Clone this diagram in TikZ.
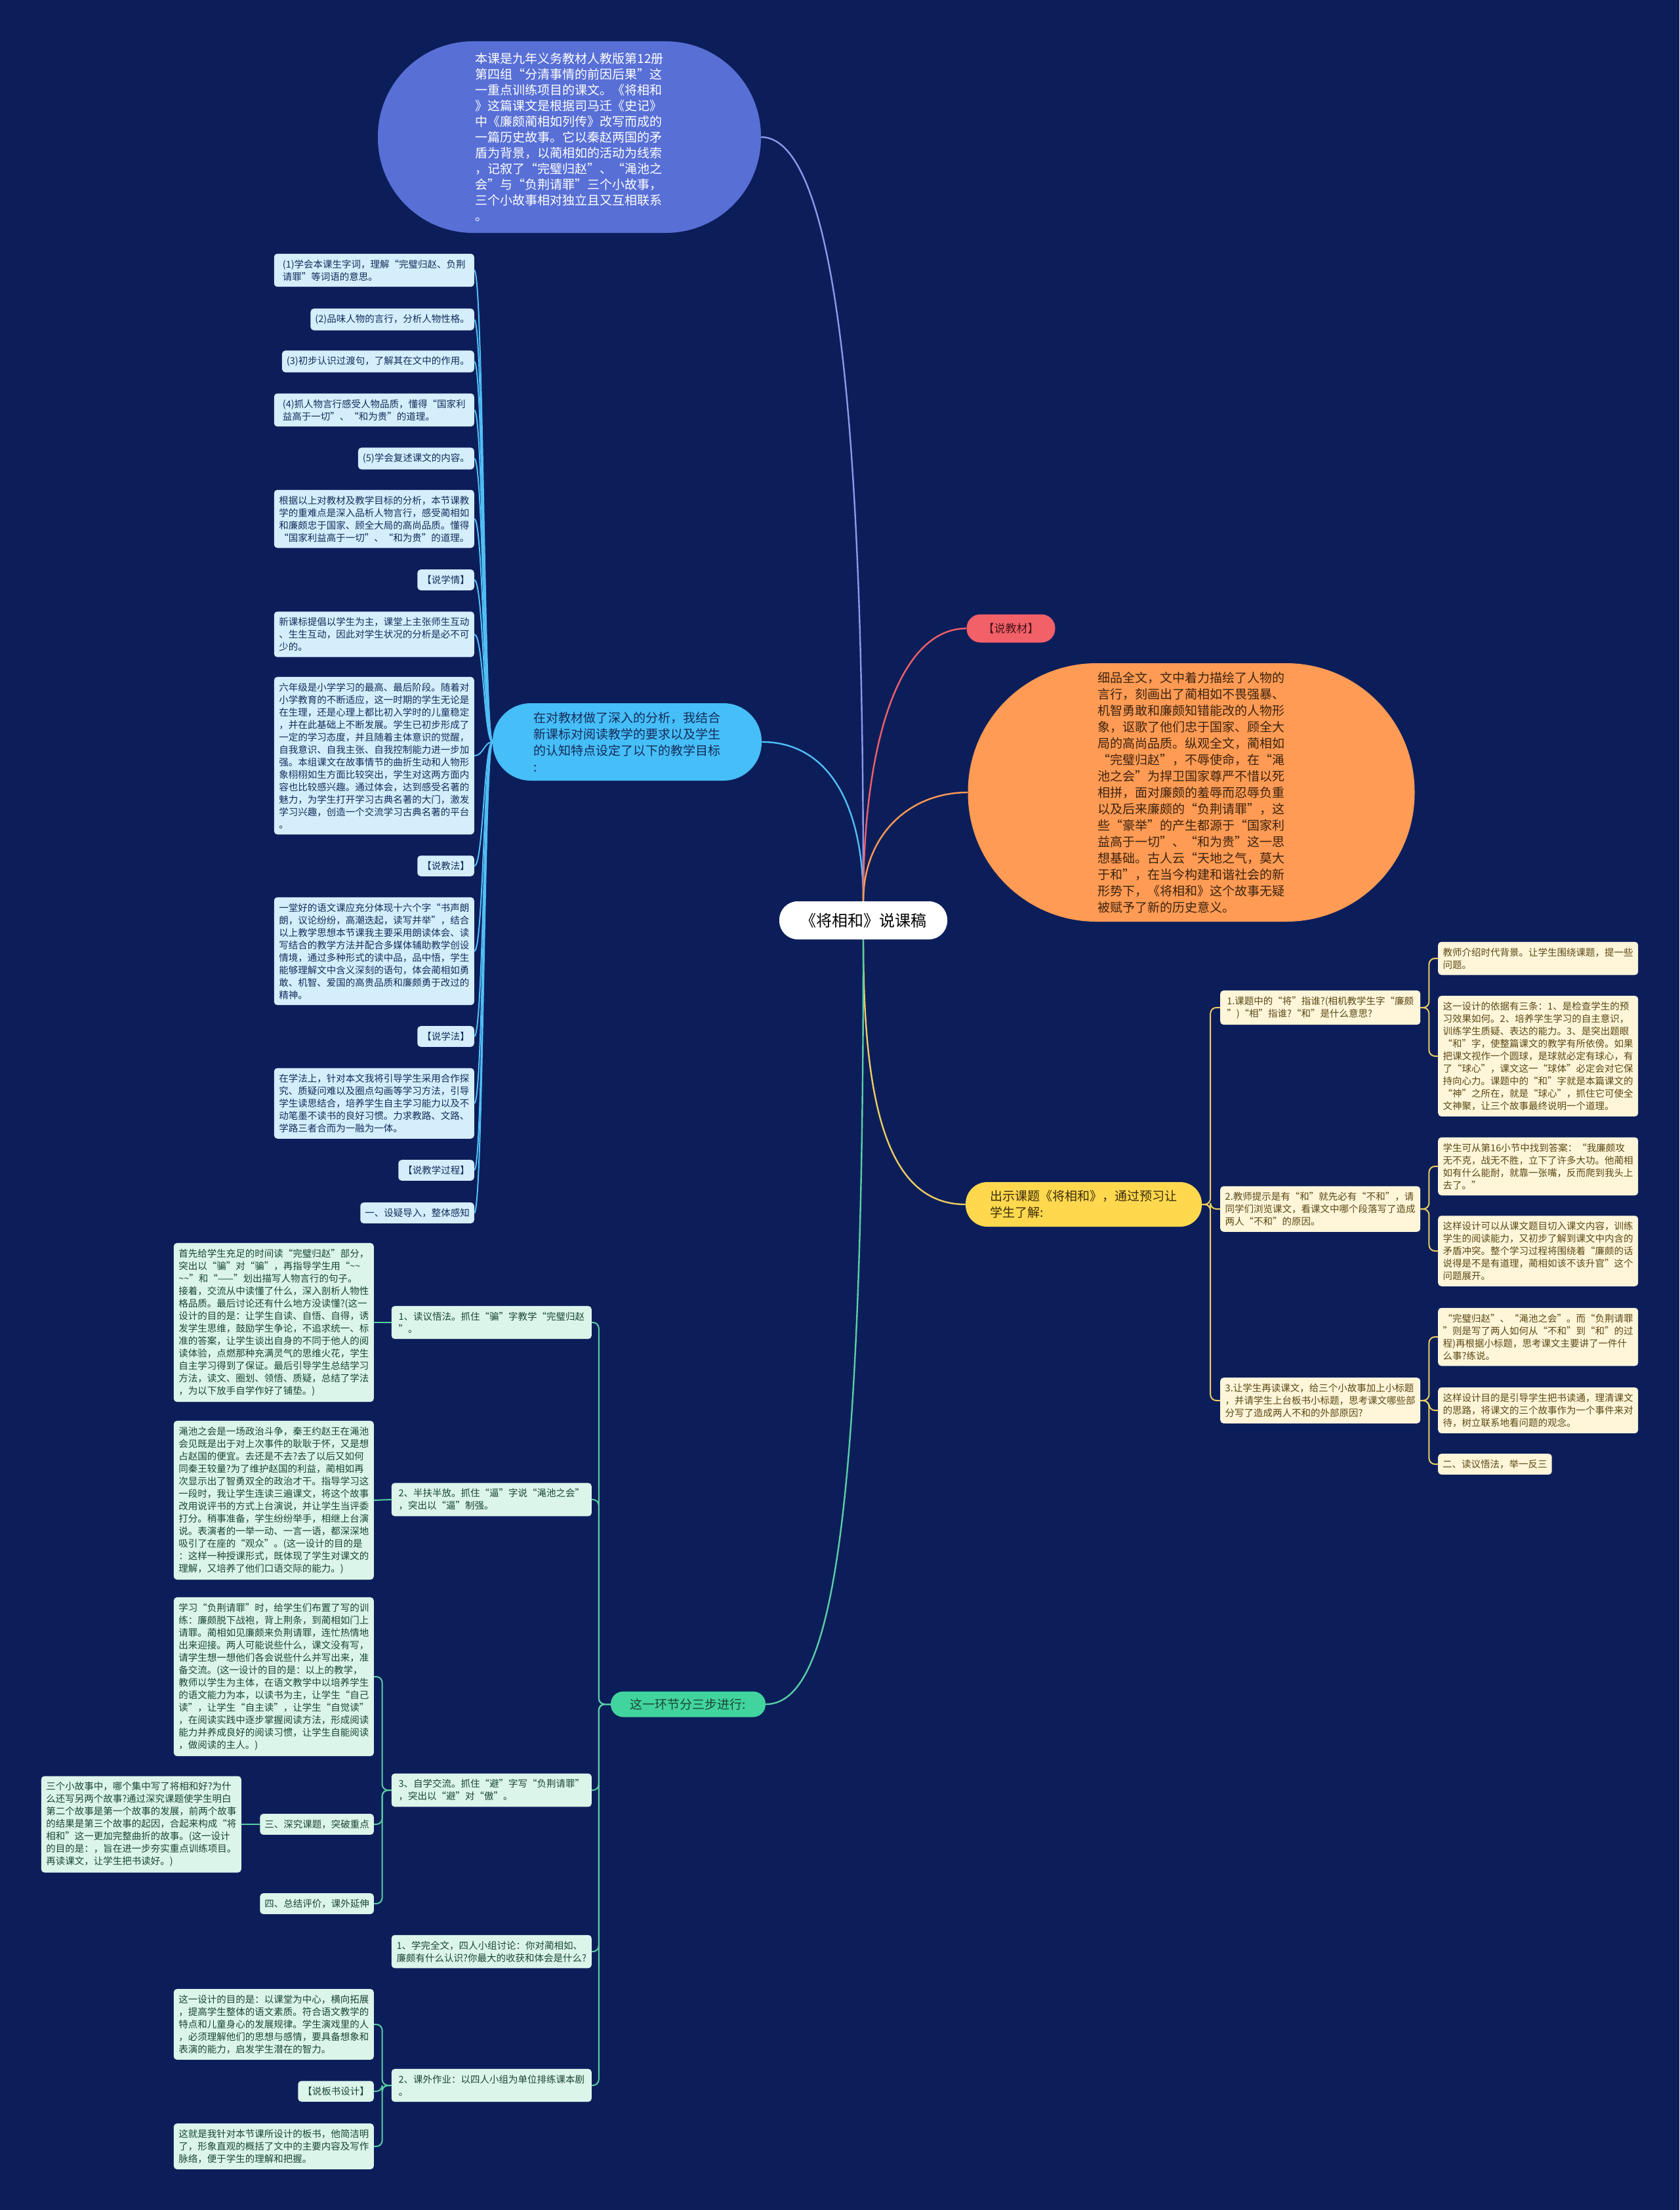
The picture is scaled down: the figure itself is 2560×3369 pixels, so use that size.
\documentclass[tikz,border=0pt]{standalone}
\usepackage{fontspec}
\setmainfont{Noto Sans CJK SC}
\definecolor{nen}{RGB}{12,30,90}
\definecolor{tim}{RGB}{88,111,214}
\definecolor{timnhat}{RGB}{140,152,232}
\definecolor{do}{RGB}{242,96,104}
\definecolor{cam}{RGB}{255,155,84}
\definecolor{troi}{RGB}{70,190,248}
\definecolor{vang}{RGB}{255,216,78}
\definecolor{luc}{RGB}{66,212,158}
\definecolor{xanhnhat}{RGB}{213,238,252}
\definecolor{kem}{RGB}{255,246,218}
\definecolor{lucnhat}{RGB}{220,245,234}
\definecolor{chuxanh}{RGB}{20,45,90}
\definecolor{chuvang}{RGB}{90,72,20}
\definecolor{chuluc}{RGB}{25,70,55}
\definecolor{chucam}{RGB}{60,35,15}
\definecolor{duongxanh}{RGB}{80,190,245}
\definecolor{duongvang}{RGB}{235,205,95}
\definecolor{duongluc}{RGB}{90,205,165}
\def\ngang{\char"7E} % dau ~ trong van ban
\begin{document}
\begin{tikzpicture}[x=1pt,y=-1pt,
    leaf/.style={rounded corners=5pt,inner xsep=7pt,inner ysep=9pt,align=left,font={\fontsize{14.5}{19}\selectfont}},
    bleaf/.style={leaf,fill=xanhnhat,text=chuxanh,anchor=east},
    yleaf/.style={leaf,fill=kem,text=chuvang,anchor=west},
    gleaf/.style={leaf,fill=lucnhat,text=chuluc,anchor=east},
    pill/.style={align=left,inner sep=0pt,font={\fontsize{19}{25}\selectfont}},
    bline/.style={draw=duongxanh,line width=2pt},
    yline/.style={draw=duongvang,line width=2pt,rounded corners=9pt},
    gline/.style={draw=duongluc,line width=2pt,rounded corners=9pt},
    main/.style={line width=2.4pt}]
    \fill[nen] (0,0) rectangle (2560,3369);
    \useasboundingbox (0,0) rectangle (2560,3369);
    % nut goc va cac nhanh chinh
    \node[pill,fill=white,text=black,font={\fontsize{24}{28}\selectfont},minimum width=256pt,minimum height=58pt,rounded corners=28pt] (goc) at (1316,1403) {《将相和》说课稿};
    \node[pill,fill=tim,text=white,font={\fontsize{19}{24}\selectfont},minimum width=584pt,minimum height=292pt,rounded corners=145pt] (gt) at (868,209) {本课是九年义务教材人教版第12册\\第四组“分清事情的前因后果”这\\一重点训练项目的课文。《将相和\\》这篇课文是根据司马迁《史记》\\中《廉颇蔺相如列传》改写而成的\\一篇历史故事。它以秦赵两国的矛\\盾为背景，以蔺相如的活动为线索\\，记叙了“完璧归赵”、“渑池之\\会”与“负荆请罪”三个小故事，\\三个小故事相对独立且又互相联系\\。};
    \node[pill,fill=do,text={rgb,255:red,70;green,20;blue,25},font={\fontsize{17}{20}\selectfont},minimum width=135pt,minimum height=43pt,rounded corners=21pt] (sjc) at (1541,958) {【说教材】};
    \node[pill,fill=cam,text=chucam,minimum width=681pt,minimum height=394pt,rounded corners=196pt] (nd) at (1816,1208) {细品全文，文中着力描绘了人物的\\言行，刻画出了蔺相如不畏强暴、\\机智勇敢和廉颇知错能改的人物形\\象，讴歌了他们忠于国家、顾全大\\局的高尚品质。纵观全文，蔺相如\\“完璧归赵”，不辱使命，在“渑\\池之会”为捍卫国家尊严不惜以死\\相拼，面对廉颇的羞辱而忍辱负重\\以及后来廉颇的“负荆请罪”，这\\些“豪举”的产生都源于“国家利\\益高于一切”、“和为贵”这一思\\想基础。古人云“天地之气，莫大\\于和”，在当今构建和谐社会的新\\形势下，《将相和》这个故事无疑\\被赋予了新的历史意义。};
    \node[pill,fill=troi,text=chuxanh,minimum width=410pt,minimum height=118pt,rounded corners=58pt] (mt) at (956,1131) {在对教材做了深入的分析，我结合\\新课标对阅读教学的要求以及学生\\的认知特点设定了以下的教学目标\\:};
    \node[pill,fill=vang,text={rgb,255:red,60;green,45;blue,10},minimum width=360pt,minimum height=68pt,rounded corners=33pt] (ct) at (1652,1836) {出示课题《将相和》，通过预习让\\学生了解:};
    \node[pill,fill=luc,text=chuluc,minimum width=236pt,minimum height=39pt,rounded corners=19pt] (hb) at (1049,2598) {这一环节分三步进行:};
    \draw[main,timnhat] (goc.north) .. controls +(0,-500) and +(140,0) .. (gt.east);
    \draw[main,duongxanh] (goc.north) .. controls +(0,-150) and +(100,0) .. (mt.east);
    \draw[main,do] (goc.north) .. controls +(0,-250) and +(-100,0) .. (sjc.west);
    \draw[main,cam] (goc.north) .. controls +(0,-100) and +(-90,0) .. (nd.west);
    \draw[main,duongvang] (goc.south) .. controls +(0,250) and +(-120,0) .. (ct.west);
    \draw[main,duongluc] (goc.south) .. controls +(0,900) and +(100,0) .. (hb.east);
    % cot trai: muc tieu
    \foreach \n/\y/\w/\t in {
        L1/412/305pt/{(1)学会本课生字词，理解“完璧归赵、负荆\\请罪”等词语的意思。},
        L2/487/0pt/{(2)品味人物的言行，分析人物性格。},
        L3/551/0pt/{(3)初步认识过渡句，了解其在文中的作用。},
        L4/625/305pt/{(4)抓人物言行感受人物品质，懂得“国家利\\益高于一切”、“和为贵”的道理。},
        L5/699/0pt/{(5)学会复述课文的内容。},
        L6/791/305pt/{根据以上对教材及教学目标的分析，本节课教\\学的重难点是深入品析人物言行，感受蔺相如\\和廉颇忠于国家、顾全大局的高尚品质。懂得\\“国家利益高于一切”、“和为贵”的道理。},
        L7/884/0pt/{【说学情】},
        L8/967/305pt/{新课标提倡以学生为主，课堂上主张师生互动\\、生生互动，因此对学生状况的分析是必不可\\少的。},
        L9/1152/305pt/{六年级是小学学习的最高、最后阶段。随着对\\小学教育的不断适应，这一时期的学生无论是\\在生理，还是心理上都比初入学时的儿童稳定\\，并在此基础上不断发展。学生已初步形成了\\一定的学习态度，并且随着主体意识的觉醒，\\自我意识、自我主张、自我控制能力进一步加\\强。本组课文在故事情节的曲折生动和人物形\\象栩栩如生方面比较突出，学生对这两方面内\\容也比较感兴趣。通过体会，达到感受名著的\\魅力，为学生打开学习古典名著的大门，激发\\学习兴趣，创造一个交流学习古典名著的平台\\。},
        L10/1320/0pt/{【说教法】},
        L11/1450/305pt/{一堂好的语文课应充分体现十六个字“书声朗\\朗，议论纷纷，高潮迭起，读写并举”，结合\\以上教学思想本节课我主要采用朗读体会、读\\写结合的教学方法并配合多媒体辅助教学创设\\情境，通过多种形式的读中品，品中悟，学生\\能够理解文中含义深刻的语句，体会蔺相如勇\\敢、机智、爱国的高贵品质和廉颇勇于改过的\\精神。},
        L12/1580/0pt/{【说学法】},
        L13/1682/305pt/{在学法上，针对本文我将引导学生采用合作探\\究、质疑问难以及圈点勾画等学习方法，引导\\学生读思结合，培养学生自主学习能力以及不\\动笔墨不读书的良好习惯。力求教路、文路、\\学路三者合而为一融为一体。},
        L14/1784/0pt/{【说教学过程】},
        L15/1849/0pt/{一、设疑导入，整体感知}}
        \node[bleaf,minimum width=\w] (\n) at (723,\y) {\t};
    \foreach \i in {1,...,15} \draw[bline] (mt.west) .. controls +(-13,0) and +(14,0) .. (L\i.east);
    % nhanh vang ben phai
    \node[yleaf,minimum width=305pt] (A1) at (1860,1536) {1.课题中的“将”指谁?(相机教学生字“廉颇\\”)“相”指谁?“和”是什么意思?};
    \node[yleaf,minimum width=305pt] (A2) at (1860,1843) {2.教师提示是有“和”就先必有“不和”，请\\同学们浏览课文，看课文中哪个段落写了造成\\两人“不和”的原因。};
    \node[yleaf,minimum width=305pt] (A3) at (1860,2135) {3.让学生再读课文，给三个小故事加上小标题\\，并请学生上台板书小标题，思考课文哪些部\\分写了造成两人不和的外部原因?};
    \foreach \n/\y/\w/\t in {
        A1a/1461/305pt/{教师介绍时代背景。让学生围绕课题，提一些\\问题。},
        A1b/1610/305pt/{这一设计的依据有三条：1、是检查学生的预\\习效果如何。2、培养学生学习的自主意识，\\训练学生质疑、表达的能力。3、是突出题眼\\“和”字，使整篇课文的教学有所依傍。如果\\把课文视作一个圆球，是球就必定有球心，有\\了“球心”，课文这一“球体”必定会对它保\\持向心力。课题中的“和”字就是本篇课文的\\“神”之所在，就是“球心”，抓住它可使全\\文神聚，让三个故事最终说明一个道理。},
        A2a/1778/305pt/{学生可从第16小节中找到答案：“我廉颇攻\\无不克，战无不胜，立下了许多大功。他蔺相\\如有什么能耐，就靠一张嘴，反而爬到我头上\\去了。”},
        A2b/1907/305pt/{这样设计可以从课文题目切入课文内容，训练\\学生的阅读能力，又初步了解到课文中内含的\\矛盾冲突。整个学习过程将围绕着“廉颇的话\\说得是不是有道理，蔺相如该不该升官”这个\\问题展开。},
        A3a/2038/305pt/{“完璧归赵”、“渑池之会”。而“负荆请罪\\”则是写了两人如何从“不和”到“和”的过\\程)再根据小标题，思考课文主要讲了一件什\\么事?练说。},
        A3b/2150/305pt/{这样设计目的是引导学生把书读通，理清课文\\的思路，将课文的三个故事作为一个事件来对\\待，树立联系地看问题的观念。},
        A3c/2232/0pt/{二、读议悟法，举一反三}}
        \node[yleaf,minimum width=\w] (\n) at (2192,\y) {\t};
    \foreach \a in {A1,A2,A3} \draw[yline] (ct.east) -- ++(13,0) |- (\a.west);
    \foreach \a/\b in {A1/A1a,A1/A1b,A2/A2a,A2/A2b,A3/A3a,A3/A3b,A3/A3c}
        \draw[yline] (\a.east) -- ++(13,0) |- (\b.west);
    % nhanh xanh la phia duoi
    \node[gleaf,minimum width=305pt] (B1) at (902,2016) {1、读议悟法。抓住“骗”字教学“完璧归赵\\”。};
    \node[gleaf,minimum width=305pt] (B2) at (902,2286) {2、半扶半放。抓住“逼”字说“渑池之会”\\，突出以“逼”制强。};
    \node[gleaf,minimum width=305pt] (B3) at (902,2729) {3、自学交流。抓住“避”字写“负荆请罪”\\，突出以“避”对“傲”。};
    \node[gleaf,minimum width=305pt] (B4) at (902,2975) {1、学完全文，四人小组讨论：你对蔺相如、\\廉颇有什么认识?你最大的收获和体会是什么?};
    \node[gleaf,minimum width=305pt] (B5) at (902,3179) {2、课外作业：以四人小组为单位排练课本剧\\。};
    \foreach \n/\y/\w/\t in {
        B1a/2016/305pt/{首先给学生充足的时间读“完璧归赵”部分，\\突出以“骗”对“骗”，再指导学生用“\ngang\ngang\\\ngang\ngang”和“——”划出描写人物言行的句子。\\接着，交流从中读懂了什么，深入剖析人物性\\格品质。最后讨论还有什么地方没读懂?(这一\\设计的目的是：让学生自读、自悟、自得，诱\\发学生思维，鼓励学生争论，不追求统一、标\\准的答案，让学生谈出自身的不同于他人的阅\\读体验，点燃那种充满灵气的思维火花，学生\\自主学习得到了保证。最后引导学生总结学习\\方法，读文、圈划、领悟、质疑，总结了学法\\，为以下放手自学作好了铺垫。)},
        B2a/2287/305pt/{渑池之会是一场政治斗争，秦王约赵王在渑池\\会见既是出于对上次事件的耿耿于怀，又是想\\占赵国的便宜。去还是不去?去了以后又如何\\同秦王较量?为了维护赵国的利益，蔺相如再\\次显示出了智勇双全的政治才干。指导学习这\\一段时，我让学生连读三遍课文，将这个故事\\改用说评书的方式上台演说，并让学生当评委\\打分。稍事准备，学生纷纷举手，相继上台演\\说。表演者的一举一动、一言一语，都深深地\\吸引了在座的“观众”。(这一设计的目的是\\：这样一种授课形式，既体现了学生对课文的\\理解，又培养了他们口语交际的能力。)},
        B3a/2556/305pt/{学习“负荆请罪”时，给学生们布置了写的训\\练：廉颇脱下战袍，背上荆条，到蔺相如门上\\请罪。蔺相如见廉颇来负荆请罪，连忙热情地\\出来迎接。两人可能说些什么，课文没有写，\\请学生想一想他们各会说些什么并写出来，准\\备交流。(这一设计的目的是：以上的教学，\\教师以学生为主体，在语文教学中以培养学生\\的语文能力为本，以读书为主，让学生“自己\\读”，让学生“自主读”，让学生“自觉读”\\，在阅读实践中逐步掌握阅读方法，形成阅读\\能力并养成良好的阅读习惯，让学生自能阅读\\，做阅读的主人。)},
        B3b/2781/0pt/{三、深究课题，突破重点},
        B3c/2902/0pt/{四、总结评价，课外延伸},
        B5a/3086/305pt/{这一设计的目的是：以课堂为中心，横向拓展\\，提高学生整体的语文素质。符合语文教学的\\特点和儿童身心的发展规律。学生演戏里的人\\，必须理解他们的思想与感情，要具备想象和\\表演的能力，启发学生潜在的智力。},
        B5b/3188/0pt/{【说板书设计】},
        B5c/3272/305pt/{这就是我针对本节课所设计的板书，他简洁明\\了，形象直观的概括了文中的主要内容及写作\\脉络，便于学生的理解和把握。}}
        \node[gleaf,minimum width=\w] (\n) at (570,\y) {\t};
    \node[gleaf,minimum width=305pt] (B3d) at (368,2781) {三个小故事中，哪个集中写了将相和好?为什\\么还写另两个故事?通过深究课题使学生明白\\第二个故事是第一个故事的发展，前两个故事\\的结果是第三个故事的起因，合起来构成“将\\相和”这一更加完整曲折的故事。(这一设计\\的目的是：，旨在进一步夯实重点训练项目。\\再读课文，让学生把书读好。)};
    \foreach \b in {B1,B2,B3,B4,B5} \draw[gline] (hb.west) -- ++(-18,0) |- (\b.east);
    \foreach \a/\b in {B3/B3a,B3/B3b,B3/B3c,B5/B5a,B5/B5b,B5/B5c}
        \draw[gline] (\a.west) -- ++(-14,0) |- (\b.east);
    \draw[gline] (B1.west) -- (B1a.east);
    \draw[gline] (B2.west) -- (B2a.east);
    \draw[gline] (B3b.west) -- (B3d.east);
\end{tikzpicture}
\end{document}
